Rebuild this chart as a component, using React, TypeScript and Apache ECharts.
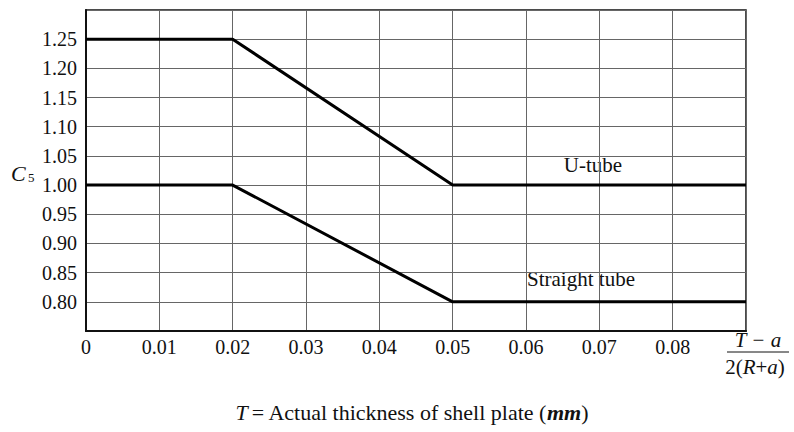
import React, { useEffect, useRef } from "react";
import * as echarts from "echarts";

const xBreaks = [0, 0.02, 0.05, 0.09];
const uTubeValues = [1.25, 1.25, 1.0, 1.0];
const straightTubeValues = [1.0, 1.0, 0.8, 0.8];
const xTickLabels = ["0", "0.01", "0.02", "0.03", "0.04", "0.05", "0.06", "0.07", "0.08", ""];
const yTickLabels = ["", "0.80", "0.85", "0.90", "0.95", "1.00", "1.05", "1.10", "1.15", "1.20", "1.25", ""];
const seriesNames = ["U-tube", "Straight tube"];

const FONT = "'Liberation Serif', 'DejaVu Serif', serif";

export default function App() {
  const ref = useRef<HTMLDivElement>(null);
  useEffect(() => {
    document.body.style.margin = "0";
    const chart = echarts.init(ref.current!, undefined, { renderer: "svg" });
    const pairs = (vals: number[]) => xBreaks.map((x, i) => [x, vals[i]]);
    chart.setOption({
      animation: false,
      backgroundColor: "#ffffff",
      grid: {
        left: 86,
        right: 48,
        top: 10,
        bottom: 101,
        show: true,
        borderColor: "#111",
        borderWidth: 1.5,
      },
      xAxis: {
        type: "value",
        min: 0,
        max: 0.09,
        interval: 0.01,
        axisLine: { show: true, lineStyle: { color: "#111", width: 2 } },
        axisTick: { show: false },
        splitLine: { show: true, lineStyle: { color: "#666", width: 1 } },
        axisLabel: {
          margin: 6,
          color: "#111",
          fontFamily: FONT,
          fontSize: 20,
          formatter: (v: number) => xTickLabels[Math.round(v * 100)] ?? "",
        },
      },
      yAxis: {
        type: "value",
        min: 0.75,
        max: 1.3,
        interval: 0.05,
        axisLine: { show: true, lineStyle: { color: "#111", width: 2 } },
        axisTick: { show: false },
        splitLine: { show: true, lineStyle: { color: "#666", width: 1 } },
        axisLabel: {
          margin: 9,
          color: "#111",
          fontFamily: FONT,
          fontSize: 20,
          formatter: (v: number) => yTickLabels[Math.round((v - 0.75) * 20)] ?? "",
        },
      },
      series: [
        {
          name: seriesNames[0],
          type: "line",
          data: pairs(uTubeValues),
          symbol: "none",
          lineStyle: { color: "#000", width: 3 },
        },
        {
          name: seriesNames[1],
          type: "line",
          data: pairs(straightTubeValues),
          symbol: "none",
          lineStyle: { color: "#000", width: 3 },
        },
      ],
      graphic: [
        {
          type: "text",
          x: 593,
          y: 165,
          style: {
            text: seriesNames[0],
            font: `21px ${FONT}`,
            fill: "#111",
            align: "center",
            verticalAlign: "middle",
            backgroundColor: "#fff",
          },
        },
        {
          type: "text",
          x: 581,
          y: 279,
          style: {
            text: seriesNames[1],
            font: `21px ${FONT}`,
            fill: "#111",
            align: "center",
            verticalAlign: "middle",
            backgroundColor: "#fff",
          },
        },
        {
          type: "text",
          x: 11,
          y: 173,
          style: {
            text: "C",
            font: `italic 22px ${FONT}`,
            fill: "#111",
            verticalAlign: "middle",
          },
        },
        {
          type: "text",
          x: 28,
          y: 177,
          style: {
            text: "5",
            font: `13px ${FONT}`,
            fill: "#111",
            verticalAlign: "middle",
          },
        },
        {
          type: "text",
          x: 758,
          y: 340,
          style: {
            text: "T − a",
            font: `italic 21px ${FONT}`,
            fill: "#111",
            align: "center",
            verticalAlign: "middle",
          },
        },
        {
          type: "line",
          shape: { x1: 727, y1: 352, x2: 789, y2: 352 },
          style: { stroke: "#111", lineWidth: 1 },
        },
        {
          type: "text",
          x: 755,
          y: 367,
          style: {
            text: "{n|2(}{i|R}{n|+}{i|a}{n|)}",
            align: "center",
            verticalAlign: "middle",
            rich: {
              n: { fontFamily: FONT, fontSize: 21, fill: "#111" },
              i: { fontFamily: FONT, fontStyle: "italic", fontSize: 21, fill: "#111" },
            },
          },
        },
        {
          type: "text",
          x: 412,
          y: 412,
          style: {
            text: "{i|T} {n|= Actual thickness of shell plate (}{ib|mm}{n|)}",
            align: "center",
            verticalAlign: "middle",
            rich: {
              n: { fontFamily: FONT, fontSize: 22, fill: "#111" },
              i: { fontFamily: FONT, fontStyle: "italic", fontSize: 22, fill: "#111" },
              ib: { fontFamily: FONT, fontStyle: "italic", fontWeight: "bold", fontSize: 22, fill: "#111" },
            },
          },
        },
      ],
    });
    return () => chart.dispose();
  }, []);
  return <div ref={ref} style={{ width: 794, height: 432 }} />;
}
